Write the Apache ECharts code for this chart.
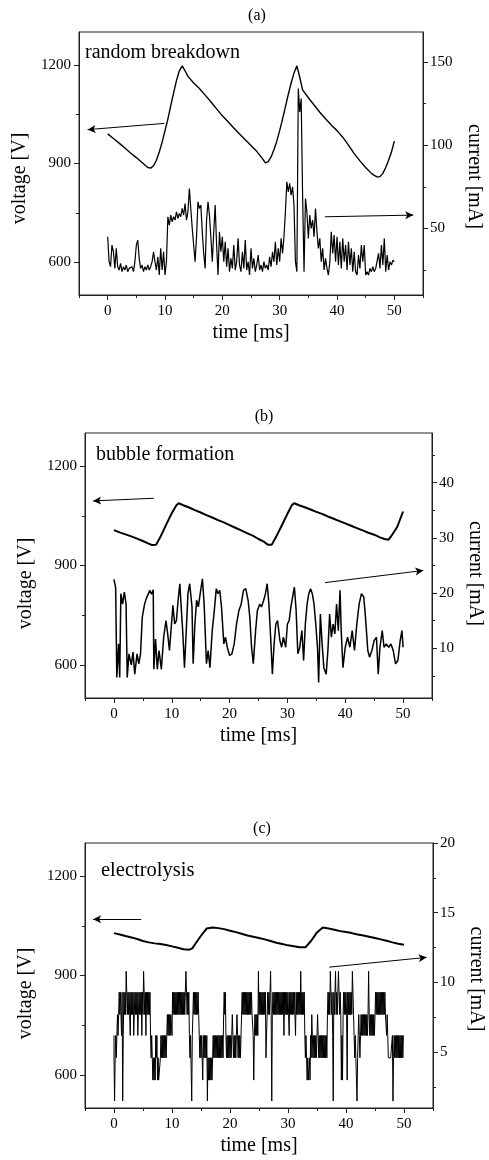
<!DOCTYPE html>
<html><head><meta charset="utf-8">
<script src="https://cdn.jsdelivr.net/npm/echarts@6/dist/echarts.min.js"></script>
<style>html,body{margin:0;padding:0;background:#fff}#chart{width:489px;height:1160px}</style>
</head><body><div id="chart"></div>
<script>
// ---------------- DATA ----------------
const timeTicks = [0, 10, 20, 30, 40, 50];
const timeMinorTicks = [-5, 5, 15, 25, 35, 45, 55];
const voltTicks = [600, 900, 1200];
const voltMinorTicks = [750, 1050];
const currentTicksA = [50, 100, 150];
const currentMinorA = [25, 75, 125];
const currentTicksB = [10, 20, 30, 40];
const currentMinorB = [5, 15, 25, 35, 45];
const currentTicksC = [5, 10, 15, 20];
const currentMinorC = [2.5, 7.5, 12.5, 17.5];

const panelTitles = ['(a)', '(b)', '(c)'];
const panelLabels = ['random breakdown', 'bubble formation', 'electrolysis'];

// (a) voltage [time ms, V]
const voltageA = [[0,990],[1,976],[2,962],[3,947],[4,932],[5,918],[6,903],[7,888],[7.5,886],[8,893],[8.5,910],[9,935],[9.5,965],[10,1000],[10.5,1035],[11,1075],[11.5,1115],[12,1152],[12.5,1182],[13,1197],[13.5,1182],[14,1165],[15,1145],[16,1128],[17,1108],[18,1088],[19,1066],[20,1045],[21,1027],[22,1008],[23,990],[24,972],[25,955],[26,937],[27,915],[27.5,902],[28,906],[28.5,920],[29,942],[29.5,968],[30,1000],[30.5,1035],[31,1072],[31.5,1110],[32,1145],[32.5,1175],[33,1197],[33.4,1170],[34,1124],[35,1100],[36,1078],[37,1056],[38,1036],[39,1017],[40,1000],[41,980],[42,956],[43,930],[44,908],[45,888],[46,870],[46.5,864],[47,859],[47.5,860],[48,870],[48.5,888],[49,910],[49.5,935],[50,968]];
// (a) current [mA], sampled every 0.25 ms from 0 to 50 ms
const currentA = [
 45,30,27,40, 36,26,38,27, 25,29,24,27, 25,28,24,26, 25,27,24,30,
 40,43,32,26, 28,24,27,25, 28,25,27,30, 36,30,25,33, 22,38,25,36,
 22,30,57,52, 58,54,57,55, 60,56,59,57, 62,58,65,55, 60,74,62,50,
 40,30,45,66, 62,64,48,35, 26,55,66,58, 45,30,48,64, 40,22,48,36,
 45,30,42,27, 38,24,32,26, 40,25,30,44, 28,24,36,26, 43,25,30,22,
 38,26,32,24, 28,34,25,28, 24,30,26,28, 25,33,27,36, 30,42,28,38,
 30,44,35,45, 60,78,72,77, 70,75,64,30, 24,134,120,128, 70,24,68,60,
 44,58,50,55, 45,62,48,38, 44,30,38,25, 32,26,22,30, 48,35,46,30,
 45,28,42,26, 44,30,40,25, 42,28,38,24, 36,24,22,34, 26,40,30,40,
 22,24,22,26, 24,27,24,26, 25,35,26,40, 28,44,24,34, 25,30,28,31,
 30];
const currentAStep = 0.25;

// (b) voltage [time ms, V]
const voltageB = [[0,1007],[1,1000],[2,994],[3,988],[4,981],[5,974],[6,966],[6.5,962],[7.3,963],[8,985],[9,1022],[10,1058],[10.8,1082],[11.2,1088],[12,1082],[13,1075],[14,1067],[15,1060],[16,1052],[17,1045],[18,1037],[19,1030],[20,1022],[21,1014],[22,1006],[23,998],[24,990],[25,980],[26,971],[26.6,963],[27.3,963],[28,985],[29,1020],[30,1056],[30.8,1083],[31.2,1088],[32,1082],[33,1076],[34,1069],[35,1062],[36,1056],[37,1048],[38,1041],[39,1034],[40,1027],[41,1020],[42,1013],[43,1006],[44,999],[45,993],[46,985],[46.8,980],[47.5,978],[48,990],[49,1017],[50,1063]];
// (b) current [time ms, mA]
const currentB = [[0,22.5],[0.3,21],[0.5,4.7],[0.8,10.8],[1.0,4.7],[1.2,19.9],[1.5,18],[1.8,20.2],[2.1,18],[2.3,4.7],[2.6,9],[3.0,7],[3.3,9.3],[3.6,5.3],[4.0,9],[4.3,7.2],[4.6,9],[4.9,15.6],[5.3,18],[5.6,19],[5.9,19.3],[6.2,20.5],[6.5,19.8],[6.8,20.6],[6.9,6.2],[7.2,11.7],[7.5,6.2],[7.8,9.6],[8.2,6.2],[8.6,12],[9.0,15],[9.3,12.6],[9.6,9.6],[10.0,15],[10.2,17.8],[10.5,14.4],[10.8,15],[11.1,18.7],[11.4,21.7],[11.6,18],[11.9,13],[12.2,6.5],[12.5,13],[12.8,19.9],[13.1,21.7],[13.5,17.5],[13.7,7.2],[14.0,14.4],[14.3,18.7],[14.6,17.5],[15.0,20.5],[15.3,22.6],[15.6,18],[16.0,7.2],[16.3,9.6],[16.6,6.5],[17.0,13.2],[17.3,16.2],[17.7,20.8],[18.0,19.9],[18.3,20.5],[18.6,17.5],[19.0,10.8],[19.3,12],[19.6,10.2],[20.0,8.7],[20.4,9],[20.8,10.8],[21.2,14.4],[21.6,16.8],[22.0,18],[22.4,20.5],[22.8,20.8],[23.2,18.7],[23.5,15.6],[23.8,10.2],[24.1,7.2],[24.5,13.2],[24.8,16.8],[25.2,18],[25.5,17.5],[25.9,18.7],[26.2,19.9],[26.5,21.7],[26.8,18],[27.1,12],[27.4,5.3],[27.7,10.8],[28.0,14.4],[28.3,15],[28.7,11.4],[29.0,10.2],[29.3,12],[29.7,10.2],[30.0,14.4],[30.3,15],[30.6,17.5],[30.9,19.3],[31.2,21.1],[31.5,17],[31.8,9],[32.1,10],[32.5,13.2],[32.8,7.8],[33.1,14.4],[33.4,18],[33.7,19.9],[34.0,20.8],[34.3,19.9],[34.6,18],[34.9,14.4],[35.2,10.2],[35.4,3.8],[35.7,16.2],[36.0,10.8],[36.3,6.5],[36.7,5.3],[37.0,9.6],[37.3,16.2],[37.6,12],[37.9,14.4],[38.2,12.6],[38.5,18],[38.8,13.2],[39.1,20.5],[39.3,13.2],[39.6,6.5],[40.0,10.2],[40.4,12],[40.8,10.2],[41.2,13.2],[41.6,9.6],[42.0,14.4],[42.4,18],[42.8,19.9],[43.2,19.3],[43.5,15.6],[43.9,9.6],[44.2,8.4],[44.6,9.6],[45.0,11.4],[45.4,12],[45.7,5.3],[46.0,10.2],[46.4,13.2],[46.7,10.2],[47.1,10.8],[47.5,10.2],[47.9,10.8],[48.3,9.6],[48.7,7.2],[49.1,7.8],[49.5,11.4],[49.8,13.2],[50.0,10.2]];

// (c) voltage [time ms, V]
const voltageC = [[0,1028],[1,1024],[2,1019],[3,1015],[4,1010],[5,1004],[6,1000],[7,997],[8,995],[9,992],[10,988],[11,984],[12,979],[13,978],[13.5,982],[14,995],[15,1020],[16,1042],[17,1045],[18,1043],[19,1040],[20,1035],[21,1031],[22,1026],[23,1021],[24,1017],[25,1013],[26,1009],[27,1004],[28,999],[29,995],[30,991],[31,988],[32,985],[33,985],[34,1005],[35,1030],[36,1045],[37,1042],[38,1038],[39,1034],[40,1031],[41,1028],[42,1024],[43,1021],[44,1017],[45,1013],[46,1009],[47,1005],[48,1000],[49,996],[50,993]];
// (c) current: digitiser levels [mA] and level index sampled every 0.1 ms
const currentLevelsC = [1.5, 3.0, 4.6, 6.2, 7.7, 9.3, 10.8];
const currentCodesC = [
 3,2,0,2,3,2,3,4,3,4, 5,4,5,4,3,5,0,3,5,4, 5,4,6,5,4,5,4,5,4,3, 5,4,5,4,5,3,4,5,4,5,
 4,5,3,4,5,4,5,4,5,3, 5,4,6,5,4,5,3,5,4,5, 4,5,4,5,3,2,3,2,1,2, 1,2,1,3,2,3,1,2,1,1,
 1,2,3,2,3,2,3,2,3,2, 3,2,3,4,3,4,3,4,3,4, 4,3,5,4,5,4,5,4,5,4, 5,4,5,4,5,4,5,4,5,4,
 5,4,5,4,5,6,5,4,5,4, 5,3,2,3,3,0,3,4,5,4, 5,4,5,4,5,4,5,4,3,2, 3,2,3,2,1,3,2,3,2,3,
 2,3,0,2,1,2,1,2,1,2, 1,2,3,2,3,2,3,2,3,2, 3,2,3,2,3,2,3,2,3,2, 4,5,4,5,3,2,3,2,3,2,
 3,2,3,2,3,4,3,2,3,2, 3,2,3,4,3,2,3,2,3,2, 3,4,5,4,5,4,5,4,5,4, 5,4,5,4,5,4,5,4,5,4,
 4,3,1,3,4,3,4,3,4,3, 6,4,5,4,5,4,5,4,5,4, 5,4,5,2,3,4,5,4,5,4, 5,6,4,0,4,5,4,5,4,5,
 4,5,4,5,4,5,4,5,4,5, 4,5,4,5,3,5,4,5,4,5, 4,5,4,3,5,4,5,4,5,4, 5,4,5,4,3,5,4,5,4,5,
 4,5,4,6,4,5,4,5,4,5, 3,2,3,2,1,2,1,1,2,1, 3,2,4,3,2,3,2,3,2,3, 2,3,4,3,2,3,2,3,2,3,
 2,3,2,3,2,3,2,3,2,4, 5,4,5,4,6,5,4,5,3,0, 5,4,5,6,4,5,4,5,6,5, 4,5,4,1,3,1,4,5,4,5,
 4,5,4,1,5,4,5,4,5,4, 5,4,6,5,4,3,2,3,2,2, 0,2,3,4,3,2,3,4,3,4, 3,4,3,4,3,4,3,4,3,4,
 6,4,3,4,3,4,3,4,3,4, 3,4,5,4,5,4,5,4,5,4, 5,4,5,4,5,4,5,4,5,4, 4,3,4,3,2,2,2,2,2,2,
 2,3,0,2,3,2,3,2,3,2, 3,2,3,2,3,2,3,2,3,2, 3];
const currentCStep = 0.1;

// arrow annotations [start, end] in data units
const arrowVoltA = [[9.9, 1022], [-3.5, 1003]];
const arrowCurA = [[37.9, 57], [53.3, 58]];
const arrowVoltB = [[6.9, 1103], [-3.6, 1095]];
const arrowCurB = [[36.5, 21.9], [53.5, 24.1]];
const arrowVoltC = [[4.7, 1070], [-3.6, 1070]];
const arrowCurC = [[37.1, 11.1], [53.9, 11.8]];

// ---------------- CHART ----------------
const FONT = 'Liberation Serif';
const AX = '#222';
const plain = v => String(v);
const grids = [
  {left: 79, top: 32, width: 344, height: 263},
  {left: 85, top: 433, width: 347, height: 265},
  {left: 85, top: 843, width: 348, height: 265}
];
const curRanges = [[10, 168], [1, 49], [1, 20]];
const curTicks = [currentTicksA, currentTicksB, currentTicksC];
const curMinor = [currentMinorA, currentMinorB, currentMinorC];
const leftNamePad = [[0, 30, 0, 0], [0, 36, 0, 0], [0, 36, 0, 0]];
const rightNamePad = [[0, 0, 0, 26], [0, 0, 0, 16], [0, 0, 0, 7]];
const leftNameGap = [43, 49, 49];
const rightNameGap = [41, 32, 32];

const xAxis = [], yAxis = [];
grids.forEach((g, i) => {
  xAxis.push({
    gridIndex: i, type: 'value', min: -5, max: 55, position: 'bottom',
    axisLine: {show: true, onZero: false, lineStyle: {color: AX, width: 1}},
    axisTick: {show: true, inside: false, length: 5, customValues: timeTicks, lineStyle: {color: AX}},
    axisLabel: {show: true, customValues: timeTicks, formatter: plain, margin: 9, color: '#000', fontFamily: FONT, fontSize: 15},
    splitLine: {show: false},
    name: 'time [ms]', nameLocation: 'middle', nameGap: 28,
    nameTextStyle: {fontFamily: FONT, fontSize: 20, color: '#000'}
  });
  xAxis.push({
    gridIndex: i, type: 'value', min: -5, max: 55, position: 'bottom',
    axisLine: {show: false, onZero: false},
    axisTick: {show: true, inside: false, length: 3, customValues: timeMinorTicks, lineStyle: {color: AX}},
    axisLabel: {show: false}, splitLine: {show: false}
  });
  yAxis.push({
    gridIndex: i, type: 'value', min: 500, max: 1300, position: 'left',
    axisLine: {show: true, onZero: false, lineStyle: {color: AX, width: 1}},
    axisTick: {show: true, inside: false, length: 5, customValues: voltTicks, lineStyle: {color: AX}},
    axisLabel: {show: true, customValues: voltTicks, formatter: plain, margin: 8, color: '#000', fontFamily: FONT, fontSize: 15},
    splitLine: {show: false},
    name: 'voltage [V]', nameLocation: 'middle', nameGap: leftNameGap[i], nameRotate: 90,
    nameTextStyle: {fontFamily: FONT, fontSize: 20, color: '#000', padding: leftNamePad[i]}
  });
  yAxis.push({
    gridIndex: i, type: 'value', min: 500, max: 1300, position: 'left',
    axisLine: {show: false, onZero: false},
    axisTick: {show: true, inside: false, length: 3, customValues: voltMinorTicks, lineStyle: {color: AX}},
    axisLabel: {show: false}, splitLine: {show: false}
  });
  yAxis.push({
    gridIndex: i, type: 'value', min: curRanges[i][0], max: curRanges[i][1], position: 'right',
    axisLine: {show: true, onZero: false, lineStyle: {color: AX, width: 1}},
    axisTick: {show: true, inside: false, length: 5, customValues: curTicks[i], lineStyle: {color: AX}},
    axisLabel: {show: true, customValues: curTicks[i], formatter: plain, margin: 7, color: '#000', fontFamily: FONT, fontSize: 15},
    splitLine: {show: false},
    name: 'current [mA]', nameLocation: 'middle', nameGap: rightNameGap[i], nameRotate: -90,
    nameTextStyle: {fontFamily: FONT, fontSize: 20, color: '#000', padding: rightNamePad[i]}
  });
  yAxis.push({
    gridIndex: i, type: 'value', min: curRanges[i][0], max: curRanges[i][1], position: 'right',
    axisLine: {show: false, onZero: false},
    axisTick: {show: true, inside: false, length: 3, customValues: curMinor[i], lineStyle: {color: AX}},
    axisLabel: {show: false}, splitLine: {show: false}
  });
});

function arrow(a) {
  return {
    silent: true, symbol: ['none', 'arrow'], symbolSize: [6, 8], animation: false,
    label: {show: false}, emphasis: {disabled: true},
    lineStyle: {color: '#000', width: 1, type: 'solid'},
    data: [[{coord: a[0]}, {coord: a[1]}]]
  };
}
function line(i, yIdx, data, width, extra) {
  return Object.assign({
    type: 'line', xAxisIndex: 2 * i, yAxisIndex: 4 * i + yIdx, data: data,
    showSymbol: false, symbol: 'none', silent: true, animation: false,
    lineStyle: {color: '#000', width: width}, itemStyle: {color: '#000'}
  }, extra || {});
}

const curAData = currentA.map((v, k) => [k * currentAStep, v]);
const curCData = currentCodesC.map((c, k) => [+(k * currentCStep).toFixed(2), currentLevelsC[c]]);

const series = [
  line(0, 0, voltageA, 1.4, {markLine: arrow(arrowVoltA)}),
  line(0, 2, curAData, 1.2, {markLine: arrow(arrowCurA)}),
  line(1, 0, voltageB, 2, {markLine: arrow(arrowVoltB)}),
  line(1, 2, currentB, 1.5, {markLine: arrow(arrowCurB)}),
  line(2, 0, voltageC, 2, {markLine: arrow(arrowVoltC)}),
  line(2, 2, curCData, 1, {step: 'start', markLine: arrow(arrowCurC)})
];

function txt(x, y, s, size, align) {
  return {type: 'text', x: x, y: y, silent: true,
    style: {text: s, font: size + 'px "' + FONT + '"', fontSize: size, fontFamily: FONT, fill: '#000',
      align: align, textAlign: align, verticalAlign: 'middle', textVerticalAlign: 'middle'}};
}
const graphic = [
  txt(257, 16, panelTitles[0], 16, 'center'),
  txt(264, 417, panelTitles[1], 16, 'center'),
  txt(262, 829, panelTitles[2], 16, 'center'),
  txt(85, 53, panelLabels[0], 20, 'left'),
  txt(96, 455, panelLabels[1], 20, 'left'),
  txt(101, 871, panelLabels[2], 20.5, 'left')
];

const chart = echarts.init(document.getElementById('chart'), null, {renderer: 'canvas'});
chart.setOption({
  backgroundColor: '#fff',
  animation: false,
  grid: grids.map(g => Object.assign({show: true, borderColor: AX, borderWidth: 1, backgroundColor: 'transparent', containLabel: false, outerBoundsMode: 'none'}, g)),
  xAxis: xAxis,
  yAxis: yAxis,
  series: series,
  graphic: graphic
});
</script></body></html>
